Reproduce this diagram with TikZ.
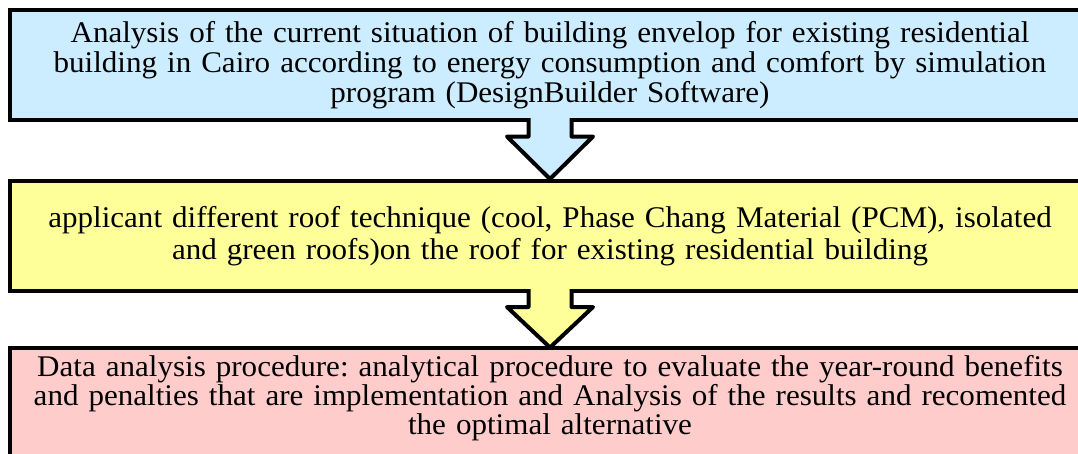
\documentclass[tikz,border=0pt]{standalone}
\usepackage{fontspec}
\setmainfont[FakeStretch=1.035]{Liberation Serif}
\usetikzlibrary{calc}
\definecolor{boxblue}{RGB}{204,236,255}
\definecolor{boxyellow}{RGB}{255,255,153}
\definecolor{boxpink}{RGB}{255,204,204}
\frenchspacing
\begin{document}
\begin{tikzpicture}[x=1pt,y=-1pt]
        \useasboundingbox (0,0) rectangle (1078,453);
        \clip (0,0) rectangle (1078,453);
        \begin{scope}[every node/.style={draw,line width=4pt,outer sep=0pt,inner xsep=5pt,minimum width=1080pt,text width=1070pt,align=center,font=\fontsize{30}{30}\selectfont}]
            \node (analysis) [fill=boxblue,minimum height=110pt] at (550,65) {Analysis of the current situation of building envelop for existing residential\\ building in Cairo according to energy consumption and comfort by simulation\\ program (DesignBuilder Software)};
            \node (roof) [fill=boxyellow,minimum height=110pt,font=\fontsize{30}{31.5}\selectfont] at (550,236) {applicant different roof technique (cool, Phase Chang Material (PCM), isolated\\ and green roofs)on the roof for existing residential building};
            \node (data) [fill=boxpink,anchor=north,inner ysep=8pt,text depth=110pt,font=\fontsize{30}{28.7}\selectfont] at (550,347.5) {Data analysis procedure: analytical procedure to evaluate the year-round benefits\\ and penalties that are implementation and Analysis of the results and recomented\\ the optimal alternative};
        \end{scope}
        \begin{scope}[line width=4pt,line join=round]
            \path [draw,fill=boxblue]
                ($(analysis.south)+(-21.5,-2)$) |- ($(analysis.south)+(-43,16.5)$)
                -- ($(roof.north)+(0,-2)$)
                -- ($(analysis.south)+(43,16.5)$) -| ($(analysis.south)+(21.5,-2)$);
            \path [draw,fill=boxyellow]
                ($(roof.south)+(-21.5,-2)$) |- ($(roof.south)+(-43,16)$)
                -- (data.north)
                -- ($(roof.south)+(43,16)$) -| ($(roof.south)+(21.5,-2)$);
        \end{scope}
    \end{tikzpicture}
\end{document}
